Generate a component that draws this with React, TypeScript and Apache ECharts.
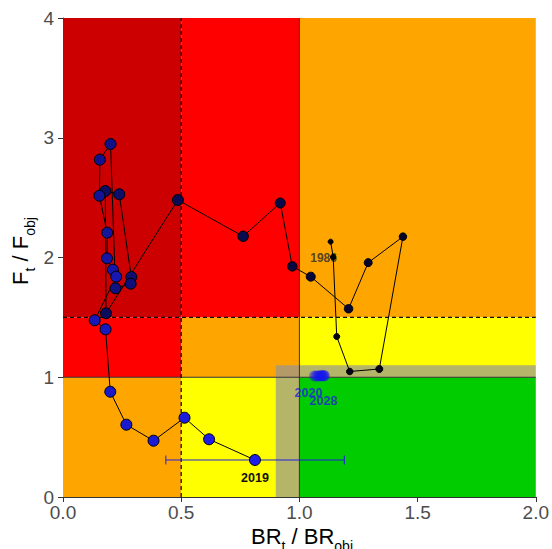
import React, { useEffect, useRef } from "react";
import * as echarts from "echarts";

// ---- Data ----
const years = [
  1986, 1987, 1988, 1989, 1990, 1991, 1992, 1993, 1994, 1995, 1996, 1997, 1998,
  1999, 2000, 2001, 2002, 2003, 2004, 2005, 2006, 2007, 2008, 2009, 2010, 2011,
  2012, 2013, 2014, 2015, 2016, 2017, 2018, 2019,
];
const brRatio = [
  1.132, 1.143, 1.158, 1.213, 1.338, 1.438, 1.291, 1.208, 1.048, 0.970, 0.919, 0.762, 0.486,
  0.182, 0.179, 0.238, 0.289, 0.286, 0.222, 0.201, 0.156, 0.154, 0.187, 0.186, 0.211, 0.225,
  0.134, 0.180, 0.200, 0.268, 0.383, 0.514, 0.618, 0.812,
];
const fRatio = [
  2.132, 2.004, 1.340, 1.048, 1.069, 2.174, 1.957, 1.572, 1.840, 1.926, 2.455, 2.177, 2.480,
  1.534, 2.555, 2.528, 1.837, 1.781, 1.743, 2.948, 2.817, 2.516, 2.207, 1.993, 1.898, 1.840,
  1.476, 1.400, 0.879, 0.604, 0.470, 0.662, 0.482, 0.309,
];
const projYears = [2020, 2021, 2022, 2023, 2024, 2025, 2026, 2027, 2028];
const projBr = [1.064, 1.072, 1.079, 1.085, 1.090, 1.095, 1.099, 1.103, 1.106];
const projF = [1.01, 1.01, 1.01, 1.01, 1.012, 1.012, 1.012, 1.012, 1.012];
const err2019Low = 0.435;
const err2019High = 1.19;

// zones: [xFrom, xTo, yFrom, yTo]
const zones = [
  [0, 0.5, 1.5, 4],
  [0.5, 1, 1.5, 4],
  [0, 0.5, 1, 1.5],
  [0.5, 1, 1, 1.5],
  [1, 2, 1.5, 4],
  [1, 2, 1, 1.5],
  [0, 0.5, 0, 1],
  [0.5, 1, 0, 1],
  [1, 2, 0, 1],
];
const zoneColors = [
  "#CC0000", "#FF0000", "#FF0000", "#FFA500", "#FFA500", "#FFFF00", "#FFA500", "#FFFF00", "#00CC00",
];
const greyZones = [
  [0.9, 1, 0, 1.1],
  [1, 2, 1, 1.1],
];
// reference lines: [x0, y0, x1, y1]
const refLines = [
  [1, 0, 1, 4],
  [0, 1, 2, 1],
  [0.5, 0, 0.5, 4],
  [0, 1.5, 2, 1.5],
];
const refDashed = [false, false, true, true];

const FONT = "'Liberation Sans', Arial, sans-serif";

function pointColor(i: number, n: number) {
  const t = i / (n - 1);
  const r = Math.round(30 * t);
  const b = Math.round(235 * t);
  return `rgb(${r},${r},${b})`;
}
function pointSize(i: number) {
  return 5 + 6 * Math.min(1, i / 12);
}

export default function App() {
  const ref = useRef<HTMLDivElement>(null);
  useEffect(() => {
    if (!ref.current) return;
    const chart = echarts.init(ref.current, null, { renderer: "svg" });
    const n = years.length;

    const rectRender = (colors: string[] | null, fill?: string) => (params: any, api: any) => {
      const x0 = api.value(0), x1 = api.value(1), y0 = api.value(2), y1 = api.value(3);
      const p0 = api.coord([x0, y1]);
      const p1 = api.coord([x1, y0]);
      return {
        type: "rect",
        shape: { x: p0[0], y: p0[1], width: p1[0] - p0[0], height: p1[1] - p0[1] },
        style: { fill: colors ? colors[params.dataIndex] : fill, stroke: null },
      };
    };

    const mainData = years.map((y, i) => {
      const item: any = {
        value: [brRatio[i], fRatio[i]],
        symbolSize: pointSize(i),
        itemStyle: { color: pointColor(i, n), borderColor: "#000", borderWidth: 1 },
      };
      if (i === n - 1) {
        item.label = {
          show: true,
          position: "inside",
          offset: [0, 18],
          formatter: String(y),
          color: "#111",
          fontWeight: "bold",
          fontSize: 12.5,
          fontFamily: FONT,
        };
      }
      return item;
    });

    const projData = projYears.map((y, i) => {
      const item: any = { value: [projBr[i], projF[i]] };
      if (i === 0 || i === projYears.length - 1) {
        item.label = {
          show: true,
          position: "inside",
          offset: i === 0 ? [-6, 17] : [-1, 25],
          formatter: String(y),
          color: "#2222dd",
          fontWeight: "bold",
          fontSize: 12.5,
          fontFamily: FONT,
        };
      }
      return item;
    });

    const subRich = {
      m: { fontSize: 22, fill: "#000", fontFamily: FONT, lineHeight: 26, verticalAlign: "top" },
      s: { fontSize: 14, fill: "#000", fontFamily: FONT, lineHeight: 16, padding: [14, 0, 0, 0], verticalAlign: "top" },
    };

    chart.setOption({
      animation: false,
      textStyle: { fontFamily: FONT },
      grid: { left: 63, top: 18, right: 12, bottom: 52, containLabel: false },
      xAxis: {
        type: "value",
        min: 0,
        max: 2,
        interval: 0.5,
        splitLine: { show: false },
        axisLine: { show: true, onZero: false, lineStyle: { color: "#333", width: 1 } },
        axisTick: { show: true, length: 5, lineStyle: { color: "#333" } },
        axisLabel: {
          formatter: (v: number) => v.toFixed(1),
          fontSize: 19,
          color: "#4d4d4d",
          margin: 6,
          fontFamily: FONT,
        },
      },
      yAxis: {
        type: "value",
        min: 0,
        max: 4,
        interval: 1,
        splitLine: { show: false },
        axisLine: { show: true, onZero: false, lineStyle: { color: "#333", width: 1 } },
        axisTick: { show: true, length: 5, lineStyle: { color: "#333" } },
        axisLabel: { fontSize: 19, color: "#4d4d4d", margin: 9, fontFamily: FONT },
      },
      graphic: [
        {
          type: "text",
          x: 302,
          y: 538,
          z: 100,
          style: {
            text: "{m|BR}{s|t}{m| / BR}{s|obj}",
            rich: subRich,
            align: "center",
            verticalAlign: "middle",
            textAlign: "center",
            textVerticalAlign: "middle",
          },
        },
        {
          type: "text",
          x: 22,
          y: 251,
          rotation: Math.PI / 2,
          z: 100,
          style: {
            text: "{m|F}{s|t}{m| / F}{s|obj}",
            rich: subRich,
            align: "center",
            verticalAlign: "middle",
            textAlign: "center",
            textVerticalAlign: "middle",
          },
        },
      ],
      series: [
        {
          type: "custom",
          z: 1,
          silent: true,
          renderItem: rectRender(zoneColors),
          data: zones,
        },
        {
          type: "custom",
          z: 2,
          silent: true,
          renderItem: rectRender(null, "rgba(150,150,150,0.7)"),
          data: greyZones,
        },
        {
          type: "custom",
          z: 3,
          silent: true,
          renderItem: (params: any, api: any) => {
            const p0 = api.coord([api.value(0), api.value(1)]);
            const p1 = api.coord([api.value(2), api.value(3)]);
            const dashed = refDashed[params.dataIndex];
            return {
              type: "line",
              shape: { x1: p0[0], y1: p0[1], x2: p1[0], y2: p1[1] },
              style: {
                stroke: dashed ? "#111" : "#333",
                lineWidth: dashed ? 1.3 : 1,
                lineDash: dashed ? [4, 3] : null,
              },
            };
          },
          data: refLines,
        },
        {
          type: "custom",
          z: 4,
          silent: true,
          renderItem: (params: any, api: any) => {
            const a = api.coord([api.value(0), api.value(2)]);
            const b = api.coord([api.value(1), api.value(2)]);
            const h = 4.5;
            const st = { stroke: "#2020e0", lineWidth: 1 };
            return {
              type: "group",
              children: [
                { type: "line", shape: { x1: a[0], y1: a[1], x2: b[0], y2: b[1] }, style: st },
                { type: "line", shape: { x1: a[0], y1: a[1] - h, x2: a[0], y2: a[1] + h }, style: st },
                { type: "line", shape: { x1: b[0], y1: b[1] - h, x2: b[0], y2: b[1] + h }, style: st },
              ],
            };
          },
          data: [[err2019Low, err2019High, fRatio[n - 1]]],
        },
        {
          type: "scatter",
          z: 4,
          silent: true,
          symbolSize: 0,
          data: [
            {
              value: [brRatio[0], fRatio[0]],
              label: {
                show: true,
                position: "inside",
                offset: [-7, 16],
                formatter: String(years[0]),
                color: "#2b2b2b",
                fontWeight: "bold",
                fontSize: 12,
                fontFamily: FONT,
              },
            },
          ],
        },
        {
          type: "line",
          z: 5,
          silent: true,
          symbol: "circle",
          showSymbol: true,
          lineStyle: { color: "#000", width: 1 },
          data: mainData,
        },
        {
          type: "scatter",
          z: 6,
          silent: true,
          symbol: "circle",
          symbolSize: 11,
          itemStyle: { color: "rgba(20,20,240,0.5)" },
          data: projData,
        },
      ],
    });
    return () => chart.dispose();
  }, []);
  return <div ref={ref} style={{ width: 552, height: 549, position: "absolute", left: 0, top: 0 }} />;
}
